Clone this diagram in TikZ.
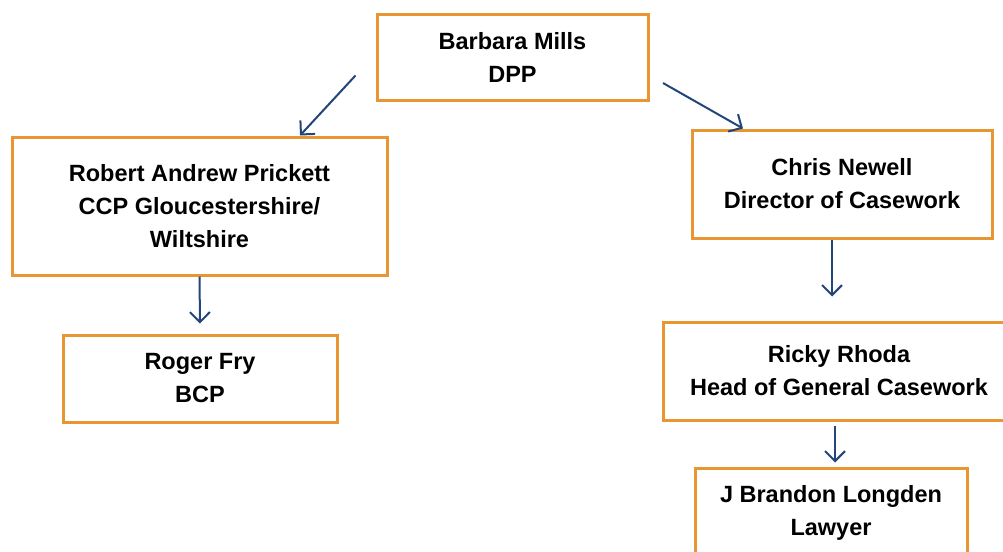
\documentclass[tikz,border=0pt]{standalone}
\usepackage{fontspec}
\setmainfont{Liberation Sans}
\usetikzlibrary{arrows.meta}
\definecolor{boxorange}{RGB}{232,150,50}
\definecolor{arrowblue}{RGB}{35,70,120}
\tikzset{
  orgbox/.style={draw=boxorange, line width=3pt, fill=white, align=center,
    font=\fontsize{23.5pt}{33pt}\selectfont\bfseries, inner sep=0pt},
  arr/.style={draw=arrowblue, line width=2pt, -{Straight Barb[length=10pt,width=20pt,line width=2pt]}}
}
\begin{document}
\begin{tikzpicture}[x=1pt,y=-1pt]
\useasboundingbox (0,0) rectangle (1003,551);
\fill[white] (0,0) rectangle (1003,551);
\node[orgbox, minimum width=271pt, minimum height=85pt] (barbara) at (512.5,57.5) {Barbara Mills\\DPP};
\node[orgbox, minimum width=375pt, minimum height=138pt] (robert) at (199.5,206) {Robert Andrew Prickett\\CCP Gloucestershire/\\Wiltshire};
\node[orgbox, minimum width=274pt, minimum height=87pt] (roger) at (200,378.5) {Roger Fry\\BCP};
\node[orgbox, minimum width=300pt, minimum height=108pt] (chris) at (842,184) {Chris Newell\\Director of Casework};
\node[orgbox, minimum width=352pt, minimum height=98pt] (ricky) at (839,371) {Ricky Rhoda\\Head of General Casework};
\node[orgbox, minimum width=272pt, minimum height=89pt] (longden) at (831,512.5) {J Brandon Longden\\Lawyer};
\draw[arr] ([xshift=-20pt,yshift=-18pt]barbara.west) -- ([xshift=100.5pt]robert.north);
\draw[arr] ([xshift=13.5pt,yshift=-25.5pt]barbara.east) -- ([xshift=-99pt]chris.north);
\draw[arr] (robert.south) -- ([yshift=10pt]roger.north);
\draw[arr] ([xshift=-10pt]chris.south) -- ([xshift=-7pt,yshift=24pt]ricky.north);
\draw[arr] ([xshift=-4pt,yshift=-4pt]ricky.south) -- ([xshift=4pt,yshift=4pt]longden.north);
\end{tikzpicture}
\end{document}
